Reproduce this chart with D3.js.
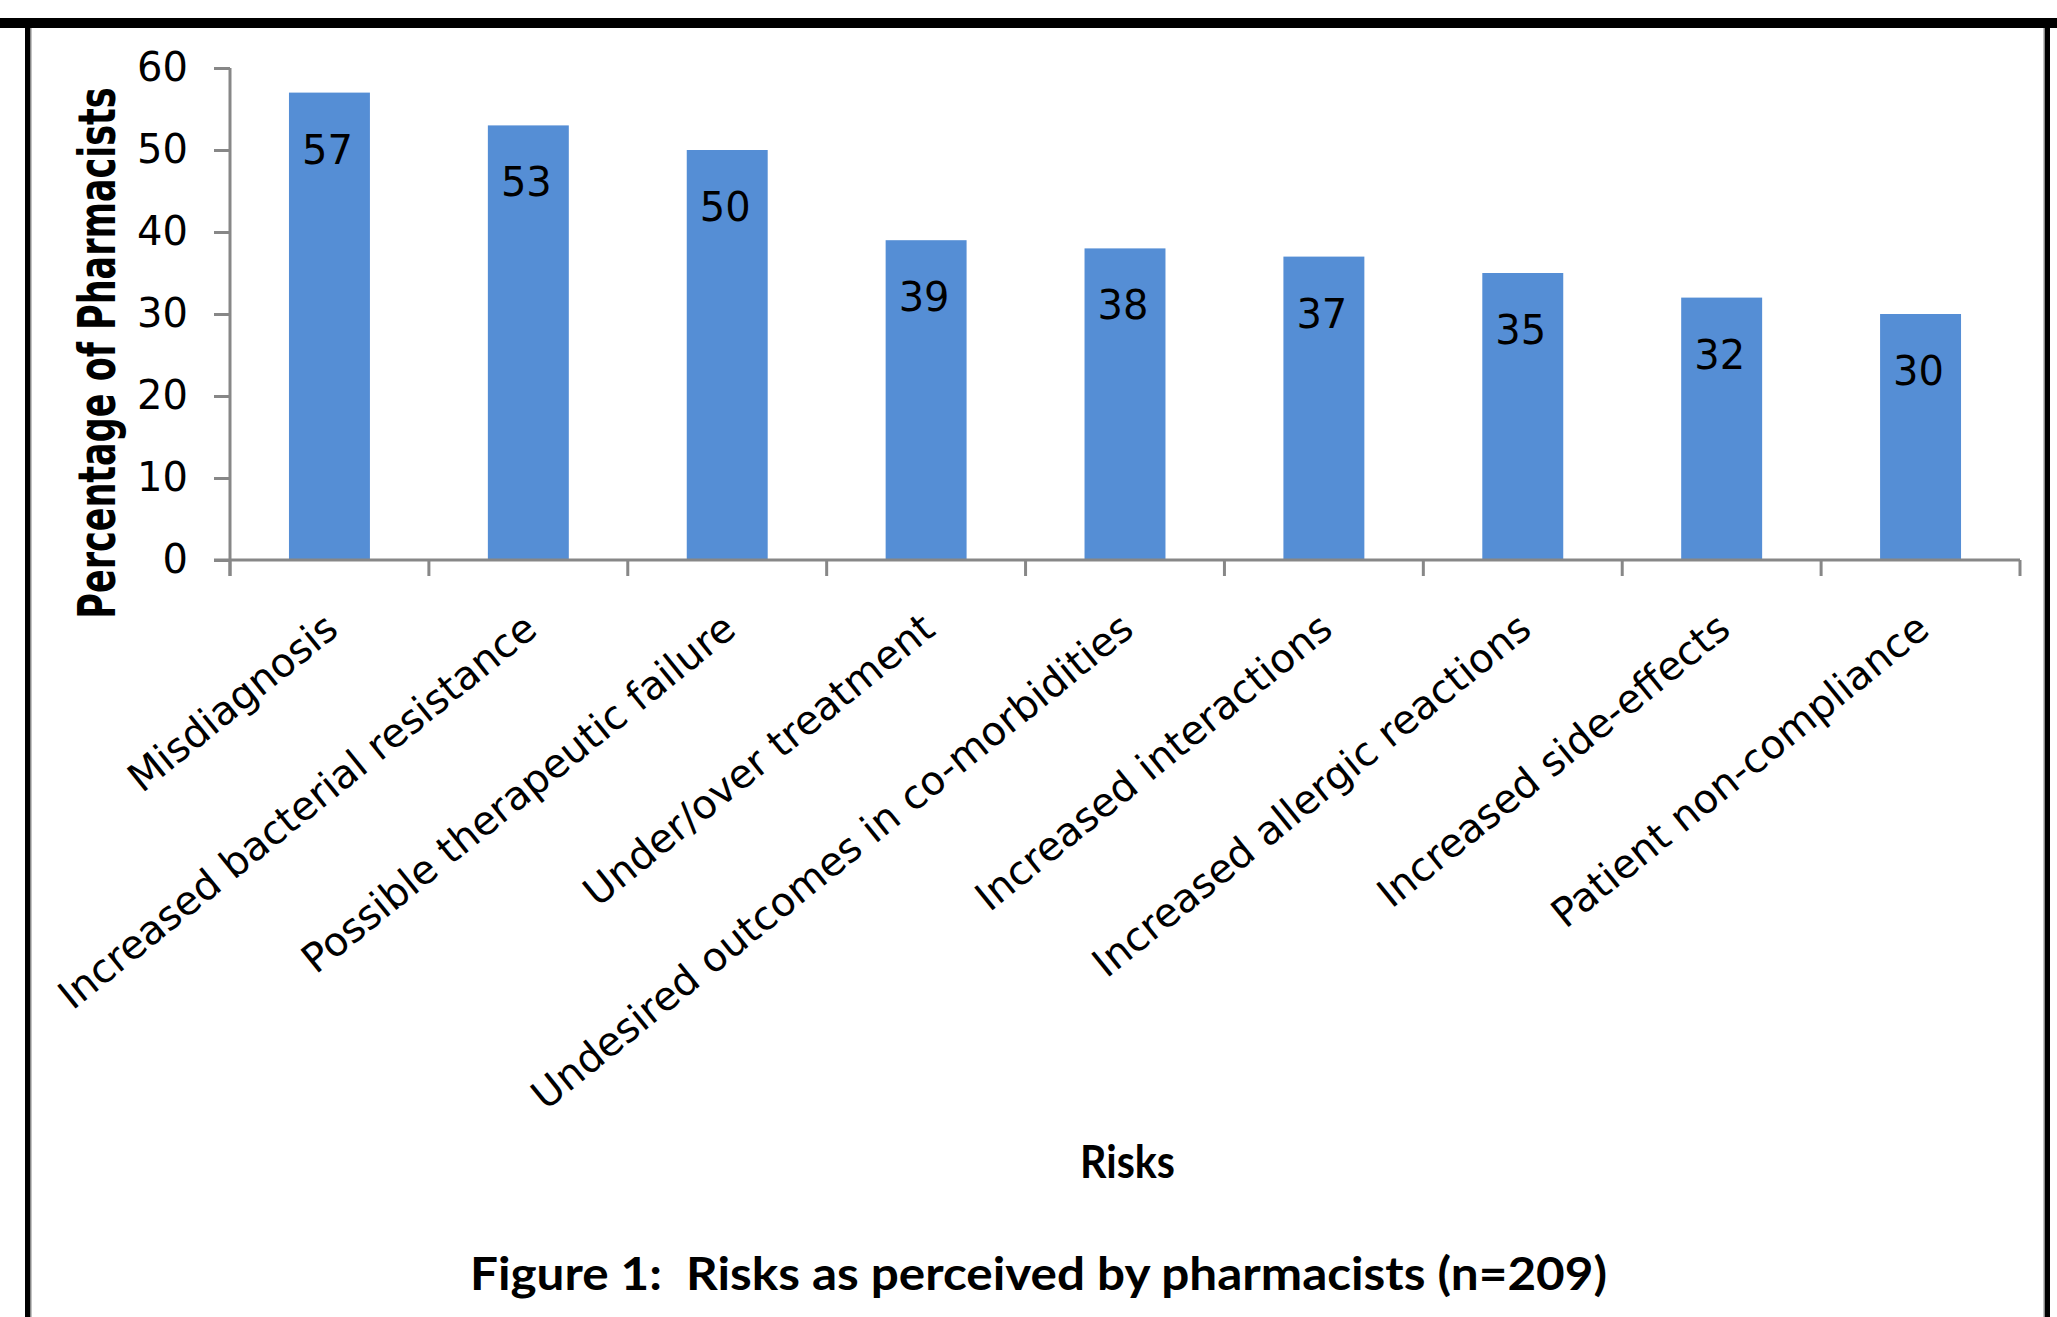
<!DOCTYPE html>
<html>
<head>
<meta charset="utf-8">
<script src="https://cdn.jsdelivr.net/npm/d3@7"></script>
<style>
  html, body { margin: 0; padding: 0; background: #fff; }
  svg { display: block; }
</style>
</head>
<body>
<svg id="chart" width="2057" height="1317"></svg>
<script>
// ---- data ----
const categories = [
  "Misdiagnosis",
  "Increased bacterial resistance",
  "Possible therapeutic failure",
  "Under/over treatment",
  "Undesired outcomes in co-morbidities",
  "Increased interactions",
  "Increased allergic reactions",
  "Increased side-effects",
  "Patient non-compliance"
];
const values = [57, 53, 50, 39, 38, 37, 35, 32, 30];
const yTicks = [0, 10, 20, 30, 40, 50, 60];
const yTitle = "Percentage of Pharmacists";
const xTitle = "Risks";
const caption = "Figure 1:  Risks as perceived by pharmacists (n=209)";

// ---- layout ----
const svg = d3.select("#chart");
const W = 2057, H = 1317;
const plot = { left: 230, right: 2020, top: 68, bottom: 560 };
const axisColor = "#878787";
const barColor = "#558ED5";
const font = "'DejaVu Sans', Verdana, sans-serif";

svg.append("rect").attr("width", W).attr("height", H).attr("fill", "#fff");

// frame
svg.append("rect").attr("x", 0).attr("y", 18).attr("width", W).attr("height", 10).attr("fill", "#000");
svg.append("rect").attr("x", 25).attr("y", 24).attr("width", 5).attr("height", H - 24).attr("fill", "#000");
svg.append("rect").attr("x", 30).attr("y", 28).attr("width", 1.5).attr("height", H - 28).attr("fill", "#888");
svg.append("rect").attr("x", 2045).attr("y", 24).attr("width", 5).attr("height", H - 24).attr("fill", "#000");
svg.append("rect").attr("x", 2043.5).attr("y", 28).attr("width", 1.5).attr("height", H - 28).attr("fill", "#888");

// scales
const x = d3.scaleBand().domain(categories).range([plot.left, plot.right]).padding(0);
const y = d3.scaleLinear().domain([0, 60]).range([plot.bottom, plot.top]);
const barW = x.bandwidth() * 0.407;

// bars
svg.append("g").selectAll("rect").data(categories).join("rect")
  .attr("x", (d) => x(d) + x.bandwidth() / 2 - barW / 2)
  .attr("y", (d, i) => y(values[i]))
  .attr("width", barW)
  .attr("height", (d, i) => y(0) - y(values[i]))
  .attr("fill", barColor);

// value labels
svg.append("g").selectAll("text").data(categories).join("text")
  .attr("x", (d) => x(d) + x.bandwidth() / 2 - 2)
  .attr("y", (d, i) => y(values[i]) + 57)
  .attr("text-anchor", "middle")
  .attr("dominant-baseline", "central")
  .attr("font-family", font)
  .attr("font-size", 40)
  .attr("fill", "#000")
  .text((d, i) => values[i]);

// y axis
const yAxis = d3.axisLeft(y).tickValues(yTicks).tickSize(16).tickSizeOuter(0).tickPadding(26);
const gy = svg.append("g").attr("transform", `translate(${plot.left},0)`).call(yAxis);
gy.select(".domain").attr("stroke", axisColor).attr("stroke-width", 3)
  .attr("d", `M0,${plot.top}V${plot.bottom + 16}`);
gy.selectAll(".tick line").attr("stroke", axisColor).attr("stroke-width", 3);
gy.selectAll(".tick text").attr("font-family", font).attr("font-size", 40).attr("fill", "#000");

// x axis line and boundary ticks
const boundaries = categories.map((c) => x(c)).concat([plot.right]);
svg.append("line")
  .attr("x1", plot.left - 16).attr("x2", plot.right)
  .attr("y1", y(0)).attr("y2", y(0))
  .attr("stroke", axisColor).attr("stroke-width", 3);
svg.append("g").selectAll("line").data(boundaries).join("line")
  .attr("x1", (d) => d).attr("x2", (d) => d)
  .attr("y1", y(0)).attr("y2", y(0) + 16)
  .attr("stroke", axisColor).attr("stroke-width", 3);

// category labels
svg.append("g").selectAll("text").data(categories).join("text")
  .attr("transform", (d) => `translate(${x(d) + x.bandwidth() / 2 + 11},${y(0) + 73}) rotate(-39)`)
  .attr("text-anchor", "end")
  .attr("font-family", font)
  .attr("font-size", 40)
  .attr("fill", "#000")
  .text((d) => d);

// y title
svg.append("text")
  .attr("transform", `translate(115,${(89 + 617) / 2}) scale(1.45,1) rotate(-90)`)
  .attr("text-anchor", "middle")
  .attr("font-family", font)
  .attr("font-weight", "bold")
  .attr("font-size", 35)
  .attr("fill", "#000")
  .text(yTitle);

// x title
svg.append("text")
  .attr("x", 1127.5).attr("y", 1178)
  .attr("text-anchor", "middle")
  .attr("font-family", "Lato, 'Open Sans', sans-serif")
  .attr("font-weight", "bold")
  .attr("font-size", 46)
  .attr("textLength", 95)
  .attr("lengthAdjust", "spacingAndGlyphs")
  .attr("fill", "#000")
  .text(xTitle);

// caption
svg.append("text")
  .attr("x", 470).attr("y", 1290)
  .attr("text-anchor", "start")
  .attr("font-family", "Lato, 'Open Sans', sans-serif")
  .attr("font-weight", "bold")
  .attr("font-size", 45)
  .attr("textLength", 1137)
  .attr("lengthAdjust", "spacingAndGlyphs")
  .style("white-space", "pre")
  .attr("fill", "#000")
  .text(caption);
</script>
</body>
</html>
